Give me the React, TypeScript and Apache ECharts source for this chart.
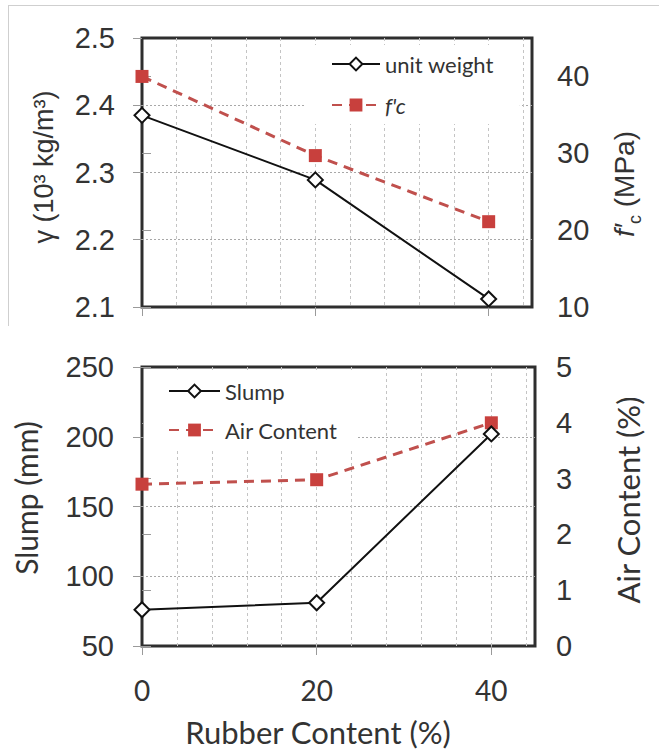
import React, { useEffect, useRef } from "react";
import * as echarts from "echarts";

// ---- data ----
const rubberContent = [0, 20, 40];
const unitWeight = [2.385, 2.289, 2.112];
const fc = [40.0, 29.7, 21.1];
const slump = [76, 81, 202];
const airContent = [2.9, 2.98, 4.0];

const xTicks = [0, 20, 40];
const unitWeightTicks = [2.1, 2.2, 2.3, 2.4, 2.5];
const fcTicks = [10, 20, 30, 40];
const slumpTicks = [50, 100, 150, 200, 250];
const airTicks = [0, 1, 2, 3, 4, 5];

const pairs = (xs: number[], ys: number[]) => xs.map((x, i) => [x, ys[i]]);

const TXT = "#333";
const TICK = "#9a9a9a";
const RED = "#C0504D";
const RED_FILL = "#C8403D";

export default function App() {
  const ref = useRef<HTMLDivElement>(null);
  useEffect(() => {
    if (!ref.current) return;
    const chart = echarts.init(ref.current, undefined, { renderer: "svg" });

    const yLabel = (margin: number) => ({
      fontFamily: "Liberation Sans",
      fontSize: 29,
      color: TXT,
      margin,
    });
    const tick = { show: true, inside: false, length: 9, lineStyle: { color: TICK, width: 1 } };
    const hSplit = {
      show: true,
      showMinLine: false,
      showMaxLine: false,
      lineStyle: { color: "#a8a8a8", type: [2, 2] as any, width: 1 },
    };
    const vMinor = (gridIndex: number) => ({
      type: "value",
      gridIndex,
      min: 0,
      max: 45,
      interval: 4,
      position: "top",
      axisLine: { show: false },
      axisTick: { show: false },
      axisLabel: { show: false },
      splitLine: {
        show: true,
        showMinLine: false,
        showMaxLine: false,
        lineStyle: { color: "#c4c4c4", type: [3, 3] as any, width: 1 },
      },
    });

    const option: any = {
      animation: false,
      backgroundColor: "#fff",
      grid: [
        { left: 142, top: 38, width: 390, height: 269, show: true, borderColor: "#2e2e2e", borderWidth: 3, backgroundColor: "#fff", containLabel: false },
        { left: 142, top: 367, width: 393, height: 279, show: true, borderColor: "#2e2e2e", borderWidth: 3, backgroundColor: "#fff", containLabel: false },
      ],
      xAxis: [
        {
          type: "value", gridIndex: 0, min: 0, max: 45, interval: 20,
          axisLine: { show: false },
          axisTick: { ...tick, customValues: xTicks },
          axisLabel: { show: false },
          splitLine: { show: false },
        },
        vMinor(0),
        {
          type: "value", gridIndex: 1, min: 0, max: 45, interval: 20,
          axisLine: { show: false },
          axisTick: { ...tick, customValues: xTicks },
          axisLabel: { customValues: xTicks, fontFamily: "Lato", fontSize: 28, color: TXT, margin: 30 },
          splitLine: { show: false },
        },
        vMinor(1),
      ],
      yAxis: [
        {
          type: "value", gridIndex: 0, min: 2.1, max: 2.5, interval: 0.1, position: "left",
          axisLine: { show: false },
          axisTick: { ...tick, customValues: unitWeightTicks },
          axisLabel: { ...yLabel(27), customValues: unitWeightTicks, formatter: (v: number) => v.toFixed(1) },
          splitLine: hSplit,
        },
        {
          type: "value", gridIndex: 0, min: 10, max: 45, interval: 10, position: "right",
          axisLine: { show: false },
          axisTick: { ...tick, customValues: fcTicks },
          axisLabel: { ...yLabel(25), customValues: fcTicks },
          splitLine: { show: false },
        },
        {
          type: "value", gridIndex: 1, min: 50, max: 250, interval: 50, position: "left",
          axisLine: { show: false },
          axisTick: { ...tick, customValues: slumpTicks },
          axisLabel: { ...yLabel(28), customValues: slumpTicks },
          splitLine: hSplit,
        },
        {
          type: "value", gridIndex: 1, min: 0, max: 5, interval: 1, position: "right",
          axisLine: { show: false },
          axisTick: { ...tick, customValues: airTicks },
          axisLabel: { ...yLabel(21), customValues: airTicks },
          splitLine: { show: false },
        },
      ],
      legend: [
        {
          orient: "vertical", left: 305, top: 45, padding: [8, 26, 8, 26],
          backgroundColor: "#fff", itemWidth: 48, itemHeight: 16, itemGap: 19,
          textStyle: { fontFamily: "Lato", fontSize: 22, color: TXT },
          data: [
            { name: "unit weight" },
            { name: "f'c", textStyle: { fontStyle: "italic" } },
          ],
        },
        {
          orient: "vertical", left: 144, top: 372, padding: [8, 20, 8, 24],
          backgroundColor: "#fff", itemWidth: 51, itemHeight: 16, itemGap: 17,
          textStyle: { fontFamily: "Lato", fontSize: 22, color: TXT },
          data: [{ name: "Slump" }, { name: "Air Content" }],
        },
      ],
      series: [
        {
          name: "unit weight", type: "line", xAxisIndex: 0, yAxisIndex: 0,
          data: pairs(rubberContent, unitWeight),
          symbol: "emptyDiamond", symbolSize: 15,
          lineStyle: { color: "#111", width: 2 },
          itemStyle: { color: "#111", borderWidth: 2 },
          z: 5,
        },
        {
          name: "f'c", type: "line", xAxisIndex: 0, yAxisIndex: 1,
          data: pairs(rubberContent, fc),
          symbol: "rect", symbolSize: 13,
          lineStyle: { color: RED, width: 3, type: [10, 7] },
          itemStyle: { color: RED_FILL },
          z: 4,
        },
        {
          name: "Slump", type: "line", xAxisIndex: 2, yAxisIndex: 2,
          data: pairs(rubberContent, slump),
          symbol: "emptyDiamond", symbolSize: 15,
          lineStyle: { color: "#111", width: 2 },
          itemStyle: { color: "#111", borderWidth: 2 },
          z: 5,
        },
        {
          name: "Air Content", type: "line", xAxisIndex: 2, yAxisIndex: 3,
          data: pairs(rubberContent, airContent),
          symbol: "rect", symbolSize: 13,
          lineStyle: { color: RED, width: 3, type: [10, 7] },
          itemStyle: { color: RED_FILL },
          z: 4,
        },
      ],
      graphic: [
        { type: "line", shape: { x1: 8, y1: 5.5, x2: 659, y2: 5.5 }, style: { stroke: "#cfcfcf", lineWidth: 1 }, silent: true },
        { type: "line", shape: { x1: 8.5, y1: 5, x2: 8.5, y2: 326 }, style: { stroke: "#cfcfcf", lineWidth: 1 }, silent: true },
        {
          type: "text", x: 44, y: 167, rotation: Math.PI / 2,
          style: { text: "γ (10³ kg/m³)", font: '27px "Liberation Sans"', fill: TXT, align: "center", verticalAlign: "middle" },
        },
        {
          type: "text", x: 624, y: 184, rotation: Math.PI / 2,
          style: {
            text: "{f|f′}{s|c}{n| (MPa)}",
            fill: TXT, align: "center", verticalAlign: "middle",
            rich: {
              f: { fontFamily: "Liberation Sans", fontSize: 28, fontStyle: "italic", fill: TXT, lineHeight: 40 },
              s: { fontFamily: "Liberation Sans", fontSize: 18, fill: TXT, lineHeight: 18, verticalAlign: "bottom" },
              n: { fontFamily: "Liberation Sans", fontSize: 28, fill: TXT, lineHeight: 40 },
            },
          },
        },
        {
          type: "text", x: 26, y: 498, rotation: Math.PI / 2,
          style: { text: "Slump (mm)", font: '30px "Lato"', fill: TXT, align: "center", verticalAlign: "middle" },
        },
        {
          type: "text", x: 628, y: 500, rotation: Math.PI / 2,
          style: { text: "Air Content (%)", font: '31px "Lato"', fill: TXT, align: "center", verticalAlign: "middle" },
        },
        {
          type: "text", x: 318, y: 732,
          style: { text: "Rubber Content (%)", font: '31px "Lato"', fill: TXT, align: "center", verticalAlign: "middle" },
        },
      ],
    };
    chart.setOption(option);
    return () => chart.dispose();
  }, []);
  return (
    <div
      ref={ref}
      style={{ position: "fixed", left: 0, top: 0, width: 659, height: 752, background: "#fff" }}
    />
  );
}
